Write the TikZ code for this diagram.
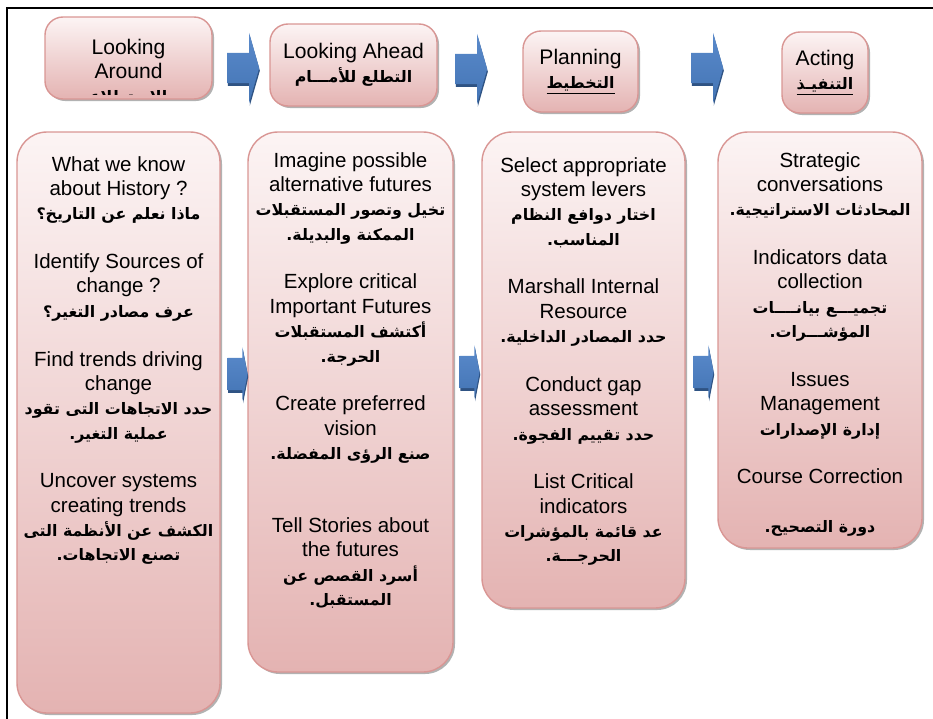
\documentclass[tikz,border=0pt]{standalone}
\usepackage{fontspec}
\setmainfont{Liberation Sans}
\newfontfamily\arabicfont[Script=Arabic]{DejaVu Sans}
\TeXXeTstate=1
\usepackage{tikz}
\usetikzlibrary{shapes.arrows,shadows}
\definecolor{boxtop}{HTML}{FCF4F4}
\definecolor{boxbot}{HTML}{E4B3B2}
\definecolor{boxline}{HTML}{D99694}
\definecolor{arrowtop}{HTML}{5A8ACB}
\definecolor{arrowbot}{HTML}{4374B4}
\definecolor{arrowdark}{HTML}{2F5383}
\newcommand{\ar}[1]{{\arabicfont\bfseries\fontsize{13.5}{16}\selectfont\beginR #1\endR}}
\tikzset{
  phase/.style={draw=boxline, line width=1.2pt, top color=boxtop, bottom color=boxbot,
    drop shadow={shadow xshift=0.6mm, shadow yshift=-0.6mm, fill=black!60},
    rounded corners=5.4mm, inner sep=0pt, align=center,
    font=\fontsize{18}{20.5}\selectfont},
  column/.style={phase, rounded corners=9mm},
  coltext/.style={anchor=north, inner sep=0pt, align=center,
    font=\fontsize{17.5}{20.8}\selectfont},
  bigarrow/.style={single arrow, top color=arrowtop, bottom color=arrowbot,
    inner xsep=0pt, inner ysep=4.5mm, minimum height=9.6mm, single arrow head extend=6mm,
    single arrow tip angle=148,
    drop shadow={shadow xshift=0.2mm, shadow yshift=-0.8mm, fill=arrowdark, opacity=1}},
  smallarrow/.style={bigarrow, inner ysep=4.8mm, minimum height=6mm,
    single arrow head extend=3.15mm, single arrow tip angle=158}
}
\begin{document}
\begin{tikzpicture}[x=0.3mm,y=-0.3mm]
\useasboundingbox (0,0) rectangle (933,718);
\draw[line width=0.8mm] (7,730) -- (7,8) -- (940,8);
\node[phase, minimum width=50.1mm, minimum height=24.6mm] (H1) at (128.5,58) {};
\node[phase, minimum width=50.1mm, minimum height=24.6mm] (H2) at (353.5,65) {Looking Ahead\\\ar{التطلع للأمـــام}};
\node[phase, minimum width=34.5mm, minimum height=24.3mm] (H3) at (580.5,71.5) {Planning\\\underline{\ar{التخطيط}}};
\node[phase, minimum width=25.8mm, minimum height=24.3mm] (H4) at (825,72.5) {Acting\\\underline{\ar{التنفيـذ}}};
\begin{scope}
\clip (45,17) rectangle (212,94);
\node[coltext, font=\fontsize{18}{20.5}\selectfont] (H1T) at (128.5,39) {Looking\\Around\\\ar{الاستطلاع}};
\end{scope}
\node[bigarrow] (A1) at (241,68) {};
\node[bigarrow] (A2) at (469,69) {};
\node[bigarrow] (A3) at (705,68) {};
\node[column, minimum width=60.9mm, minimum height=174.3mm] (B1) at (118.5,422.5) {};
\node[column, minimum width=61.5mm, minimum height=162mm] (B2) at (350.5,402) {};
\node[column, minimum width=60.9mm, minimum height=142.8mm] (B3) at (583.5,370) {};
\node[column, minimum width=61.2mm, minimum height=124.8mm] (B4) at (820,340) {};
\node[smallarrow] (S1) at (236,374) {};
\node[smallarrow] (S2) at (468,372) {};
\node[smallarrow] (S3) at (702,372) {};
\node[coltext] (T1) at (118.5,156) {What we know\\about History ?\\\ar{ماذا نعلم عن التاريخ؟}\\[20.8pt]
Identify Sources of\\change ?\\\ar{عرف مصادر التغير؟}\\[20.8pt]
Find trends driving\\change\\\ar{حدد الاتجاهات التى تقود}\\\ar{عملية التغير.}\\[20.8pt]
Uncover systems\\creating trends\\\ar{الكشف عن الأنظمة التى}\\\ar{تصنع الاتجاهات.}};
\node[coltext] (T2) at (350.5,152) {Imagine possible\\alternative futures\\\ar{تخيل وتصور المستقبلات}\\\ar{الممكنة والبديلة.}\\[20.8pt]
Explore critical\\Important Futures\\\ar{أكتشف المستقبلات}\\\ar{الحرجة.}\\[20.8pt]
Create preferred\\vision\\\ar{صنع الرؤى المفضلة.}\\[41.6pt]
Tell Stories about\\the futures\\\ar{أسرد القصص عن}\\\ar{المستقبل.}};
\node[coltext] (T3) at (583.5,157) {Select appropriate\\system levers\\\ar{اختار دوافع النظام}\\\ar{المناسب.}\\[20.8pt]
Marshall Internal\\Resource\\\ar{حدد المصادر الداخلية.}\\[20.8pt]
Conduct gap\\assessment\\\ar{حدد تقييم الفجوة.}\\[20.8pt]
List Critical\\indicators\\\ar{عد قائمة بالمؤشرات}\\\ar{الحرجـــة.}};
\node[coltext] (T4) at (820,152) {Strategic\\conversations\\\ar{المحادثات الاستراتيجية.}\\[20.8pt]
Indicators data\\collection\\\ar{تجميـــع بيانــــات}\\\ar{المؤشـــرات.}\\[20.8pt]
Issues\\Management\\\ar{إدارة الإصدارات}\\[20.8pt]
Course Correction\\[20.8pt]
\ar{دورة التصحيح.}};
\end{tikzpicture}
\end{document}
